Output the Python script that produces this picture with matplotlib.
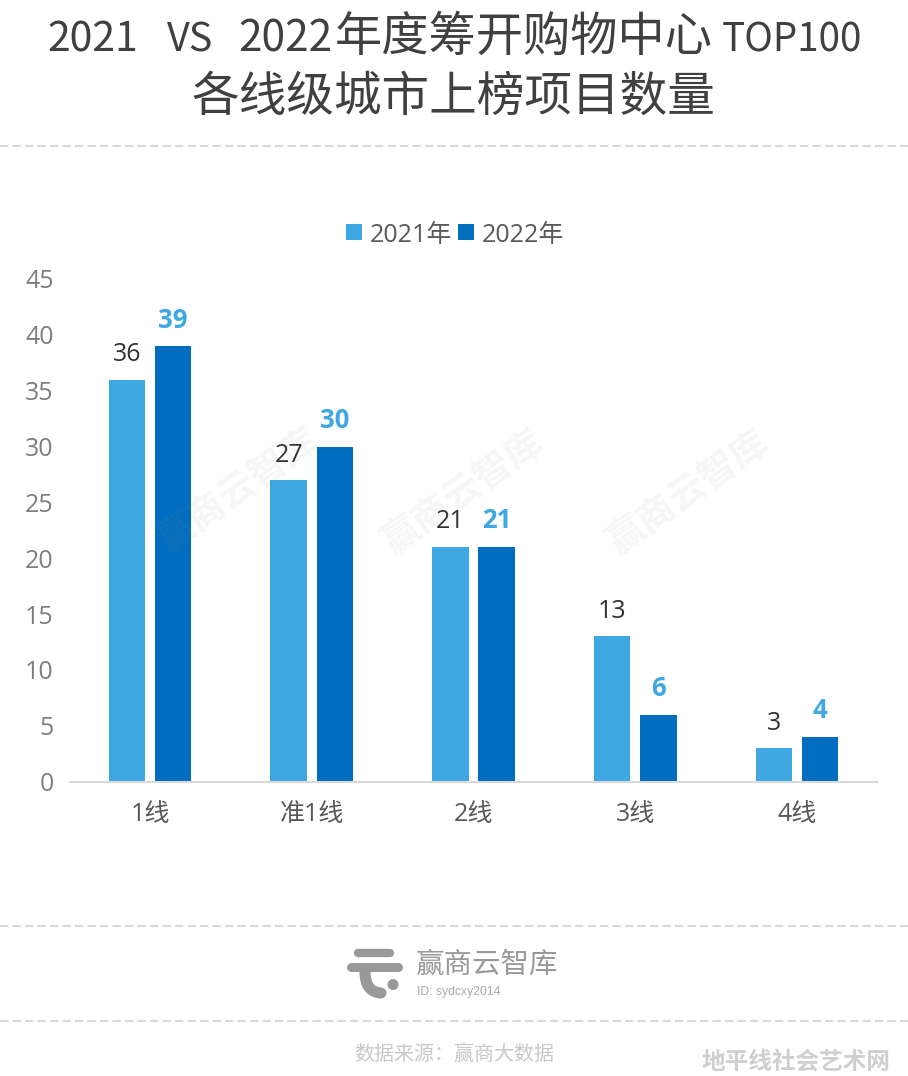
import matplotlib
matplotlib.use("Agg")
import matplotlib.pyplot as plt
from matplotlib.path import Path
from matplotlib.patches import PathPatch, Circle, Rectangle

CJK = 'Noto Sans CJK SC'
plt.rcParams['font.family'] = ['Open Sans', CJK, 'DejaVu Sans']

categories = ['1线', '准1线', '2线', '3线', '4线']
series_2021 = [36, 27, 21, 13, 3]
series_2022 = [39, 30, 21, 6, 4]
yticks = [0, 5, 10, 15, 20, 25, 30, 35, 40, 45]
label_2021 = '2021年'
label_2022 = '2022年'
color_2021 = '#3FA7E1'
color_2022 = '#016DBE'

W, H = 908, 1076
fig = plt.figure(figsize=(W / 100, H / 100), dpi=100, facecolor='white')

bg = fig.add_axes([0, 0, 1, 1], zorder=0)
bg.set_xlim(0, W); bg.set_ylim(H, 0); bg.axis('off')
top = fig.add_axes([0, 0, 1, 1], zorder=5)
top.set_xlim(0, W); top.set_ylim(H, 0); top.axis('off'); top.patch.set_alpha(0)

ax_l, ax_r, ax_t, ax_b = 69, 878, 279, 781.5
ax = fig.add_axes([ax_l / W, 1 - ax_b / H, (ax_r - ax_l) / W, (ax_b - ax_t) / H], zorder=2)
ax.patch.set_alpha(0)
x = list(range(len(categories)))
bw = 0.225
off = 0.1425
ax.bar([i - off for i in x], series_2021, bw, color=color_2021)
ax.bar([i + off for i in x], series_2022, bw, color=color_2022)
ax.set_xlim(-0.5, 4.5)
ax.set_ylim(0, 45)
ax.set_yticks(yticks)
ax.set_xticks(x, categories)
for s in ['top', 'left', 'right']:
    ax.spines[s].set_visible(False)
ax.spines['bottom'].set_color('#D9D9D9')
ax.spines['bottom'].set_linewidth(1.5)
ax.spines['bottom'].set_bounds(-0.494, 4.494)
ax.tick_params(axis='both', length=0)
ax.tick_params(axis='y', labelsize=18, labelcolor='#7F7F7F', pad=11)
ax.tick_params(axis='x', labelsize=18, labelcolor='#595959', pad=15)
for i, v in enumerate(series_2021):
    ax.annotate(str(v), (i - off, v), xytext=(0, 9), textcoords='offset points',
                ha='center', va='bottom', fontsize=18, color='#333333')
for i, v in enumerate(series_2022):
    ax.annotate(str(v), (i + off, v), xytext=(0, 9), textcoords='offset points',
                ha='center', va='bottom', fontsize=18.5, color=color_2021, fontweight='bold')

# title
TC = '#404040'
for tx, s, fs in ((47, '2021', 29.5), (167, 'VS', 28.5), (238, '2022', 30.5), (722, 'TOP100', 27.8)):
    top.text(tx, 52, s, family=CJK, fontsize=fs, color=TC, va='baseline', ha='left')
top.text(335, 38, '年度筹开购物中心', family=CJK, fontsize=34, color=TC, va='center', ha='left')
top.text(454, 97, '各线级城市上榜项目数量', family=CJK, fontsize=34.3, color=TC, va='center', ha='center')

for yy in (146, 926, 1021):
    bg.plot([0, W], [yy, yy], color='#D9D9D9', lw=1.5, dashes=(4, 2))

top.add_patch(Rectangle((346, 224), 16, 16, color=color_2021, lw=0))
top.add_patch(Rectangle((458, 224), 16, 16, color=color_2022, lw=0))
top.text(370, 235, label_2021, fontsize=18, color='#595959', va='center', ha='left')
top.text(482, 235, label_2022, fontsize=18, color='#595959', va='center', ha='left')

for wx, wy in ((237, 490), (462, 492), (687, 492)):
    top.text(wx, wy, '赢商云智库', family=CJK, fontsize=27, fontweight='bold', color='#888888',
             alpha=0.08, rotation=35, rotation_mode='anchor', ha='center', va='center')

LG = '#999999'
top.plot([358, 390], [953, 953], color=LG, lw=6, solid_capstyle='round')
top.plot([351, 398], [967, 967], color=LG, lw=6.5, solid_capstyle='round')
stem = Path([(365, 972), (365, 992), (381, 993)], [Path.MOVETO, Path.CURVE3, Path.CURVE3])
top.add_patch(PathPatch(stem, fill=False, edgecolor=LG, lw=8, capstyle='round'))
top.add_patch(Circle((393, 984.5), 5.5, color=LG, lw=0))
top.text(416, 965, '赢商云智库', family=CJK, fontsize=20.5, color='#999999', va='center', ha='left')
top.text(417, 992, 'ID: sydcxy2014', family='Liberation Sans', fontsize=8.7, color='#AAAAAA', va='center', ha='left')

top.text(454, 1054, '数据来源：赢商大数据', family=CJK, fontsize=14.4, color='#C8C8C8', va='center', ha='center')
top.text(796, 1062, '地平线社会艺术网', family=CJK, fontsize=17, fontweight='bold', color='#CFCFCF', va='center', ha='center')

fig.savefig('out.png', dpi=100, facecolor='white')
